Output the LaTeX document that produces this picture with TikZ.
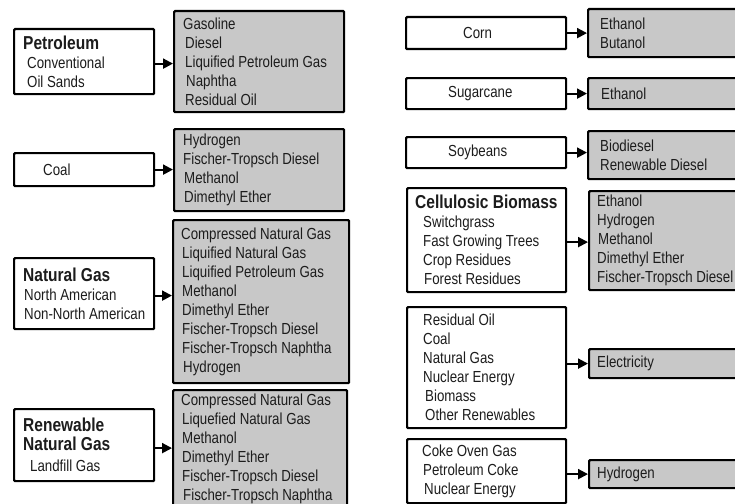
\documentclass[tikz,border=0pt]{standalone}
\usepackage{fontspec}
\setmainfont[FakeStretch=0.83]{Liberation Sans}
\usetikzlibrary{arrows.meta}
\definecolor{prodgray}{RGB}{200,200,200}
\definecolor{txtcol}{RGB}{28,28,28}
\newcommand\hdr[1]{{\fontsize{18.7}{19}\selectfont\bfseries #1}}
\tikzset{
  srcbox/.style={draw=black, line width=2.2pt, fill=white, inner sep=0pt,
    anchor=north west, rounded corners=1pt},
  prodbox/.style={srcbox, fill=prodgray},
  lbl/.style={align=left, inner sep=0pt, anchor=west, text=txtcol,
    font=\fontsize{16}{19}\selectfont},
  flow/.style={line width=2pt, -{Triangle[length=10pt,width=10pt]}}
}
\begin{document}
\begin{tikzpicture}[x=1pt,y=-1pt]
\useasboundingbox (0,0) rectangle (735,503);
\clip (0,0) rectangle (735,503);
% ---------- left column sources
\node[srcbox, minimum width=140pt, minimum height=65pt] (pet) at (13,28) {};
\node[lbl] (pett) at ([xshift=10pt]pet.west)
  {\hdr{Petroleum}\\\hspace*{4pt}Conventional\\\hspace*{4pt}Oil Sands};
\node[srcbox, minimum width=140pt, minimum height=33pt] (coal) at (13,152) {};
\node[lbl] (coalt) at ([xshift=30pt]coal.west) {Coal};
\node[srcbox, minimum width=140pt, minimum height=71pt] (ng) at (13,257) {};
\node[lbl] (ngt) at ([xshift=10pt]ng.west)
  {\hdr{Natural Gas}\\\hspace*{1pt}North American\\\hspace*{1pt}Non-North American};
\node[srcbox, minimum width=140pt, minimum height=72pt] (rng) at (13,408) {};
\node[lbl] (rngt) at ([xshift=10pt]rng.west)
  {\hdr{Renewable}\\\hdr{Natural Gas}\\[2pt]\hspace*{7pt}Landfill Gas};
% ---------- left column products
\node[prodbox, minimum width=170pt, minimum height=101pt] (petp) at (173,10) {};
\node[lbl] (petpt) at ([xshift=10pt]petp.west)
  {Gasoline\\\hspace*{2pt}Diesel\\\hspace*{2pt}Liquified Petroleum Gas\\\hspace*{3pt}Naphtha\\\hspace*{2pt}Residual Oil};
\node[prodbox, minimum width=170pt, minimum height=82pt] (coalp) at (173,128) {};
\node[lbl] (coalpt) at ([xshift=10pt]coalp.west)
  {Hydrogen\\Fischer-Tropsch Diesel\\\hspace*{1pt}Methanol\\\hspace*{1pt}Dimethyl Ether};
\node[prodbox, minimum width=176pt, minimum height=163pt] (ngp) at (172,219) {};
\node[lbl] (ngpt) at ([xshift=9pt]ngp.west)
  {Compressed Natural Gas\\\hspace*{1pt}Liquified Natural Gas\\\hspace*{1pt}Liquified Petroleum Gas\\\hspace*{1pt}Methanol\\\hspace*{1pt}Dimethyl Ether\\\hspace*{1pt}Fischer-Tropsch Diesel\\\hspace*{1pt}Fischer-Tropsch Naphtha\\\hspace*{2pt}Hydrogen};
\node[prodbox, minimum width=174pt, minimum height=117pt] (rngp) at (172,389) {};
\node[lbl] (rngpt) at ([xshift=9pt]rngp.west)
  {Compressed Natural Gas\\\hspace*{1pt}Liquefied Natural Gas\\\hspace*{1pt}Methanol\\\hspace*{1pt}Dimethyl Ether\\\hspace*{1pt}Fischer-Tropsch Diesel\\\hspace*{2pt}Fischer-Tropsch Naphtha};
% ---------- right column sources
\node[srcbox, minimum width=160pt, minimum height=32pt] (corn) at (405,16) {};
\node[lbl] (cornt) at ([xshift=58pt]corn.west) {Corn};
\node[srcbox, minimum width=160pt, minimum height=31pt] (sug) at (405,77) {};
\node[lbl] (sugt) at ([xshift=43pt]sug.west) {Sugarcane};
\node[srcbox, minimum width=160pt, minimum height=31pt] (soy) at (405,136) {};
\node[lbl] (soyt) at ([xshift=43pt]soy.west) {Soybeans};
\node[srcbox, minimum width=159pt, minimum height=104pt] (cel) at (406,187) {};
\node[lbl] (celt) at ([xshift=9pt]cel.west)
  {\hdr{Cellulosic Biomass}\\\hspace*{8pt}Switchgrass\\\hspace*{8pt}Fast Growing Trees\\\hspace*{8pt}Crop Residues\\\hspace*{9pt}Forest Residues};
\node[srcbox, minimum width=159pt, minimum height=121pt] (elec) at (406,306) {};
\node[lbl] (elect) at ([xshift=17pt]elec.west)
  {Residual Oil\\Coal\\Natural Gas\\Nuclear Energy\\\hspace*{2pt}Biomass\\\hspace*{2pt}Other Renewables};
\node[srcbox, minimum width=159pt, minimum height=64pt] (hyd) at (406,438) {};
\node[lbl] (hydt) at ([xshift=16pt]hyd.west)
  {Coke Oven Gas\\\hspace*{1pt}Petroleum Coke\\\hspace*{2pt}Nuclear Energy};
% ---------- right column products
\node[prodbox, minimum width=173pt, minimum height=48pt] (cornp) at (587,8) {};
\node[lbl] (cornpt) at ([xshift=13pt]cornp.west) {Ethanol\\Butanol};
\node[prodbox, minimum width=173pt, minimum height=31pt] (sugp) at (587,77) {};
\node[lbl] (sugpt) at ([xshift=14pt]sugp.west) {Ethanol};
\node[prodbox, minimum width=173pt, minimum height=48pt] (soyp) at (587,130) {};
\node[lbl] (soypt) at ([xshift=13pt]soyp.west) {Biodiesel\\Renewable Diesel};
\node[prodbox, minimum width=172pt, minimum height=99pt] (celp) at (588,190) {};
\node[lbl] (celpt) at ([xshift=9pt]celp.west)
  {Ethanol\\Hydrogen\\\hspace*{1pt}Methanol\\Dimethyl Ether\\Fischer-Tropsch Diesel};
\node[prodbox, minimum width=172pt, minimum height=29pt] (elecp) at (588,348) {};
\node[lbl] (elecpt) at ([xshift=9pt]elecp.west) {Electricity};
\node[prodbox, minimum width=172pt, minimum height=28pt] (hydp) at (588,459) {};
\node[lbl] (hydpt) at ([xshift=9pt]hydp.west) {Hydrogen};
% ---------- connectors
\draw[flow] ([yshift=-2pt]pet.east) -- ([yshift=-2pt]pet.east -| petp.west);
\draw[flow] (coal.east) -- (coal.east -| coalp.west);
\draw[flow] ([yshift=-2pt]ng.east) -- ([yshift=-2pt]ng.east -| ngp.west);
\draw[flow] ([yshift=-3pt]rng.east) -- ([yshift=-3pt]rng.east -| rngp.west);
\draw[flow] (corn.east) -- (corn.east -| cornp.west);
\draw[flow] (sug.east) -- (sug.east -| sugp.west);
\draw[flow] (soy.east) -- (soy.east -| soyp.west);
\draw[flow] ([yshift=-2pt]cel.east) -- ([yshift=-2pt]cel.east -| celp.west);
\draw[flow] (elecp.west -| elec.east) -- (elecp.west);
\draw[flow] (hydp.west -| hyd.east) -- (hydp.west);
\end{tikzpicture}
\end{document}
